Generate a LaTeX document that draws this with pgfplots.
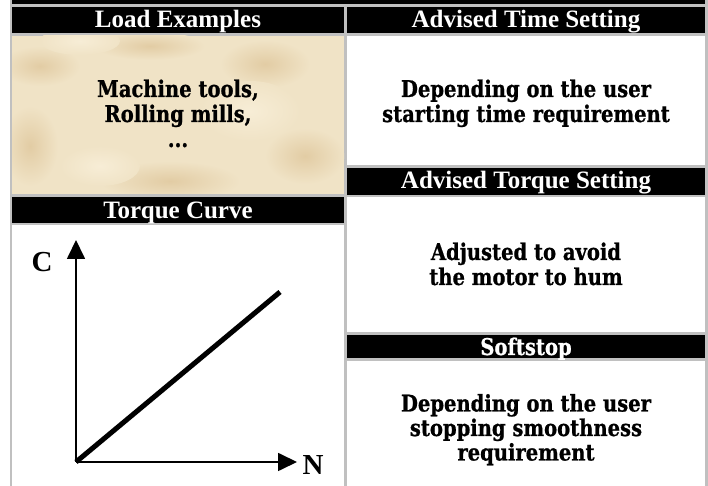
\documentclass[border=0pt]{standalone}
\usepackage{fontspec}
\setmainfont{Liberation Serif}
\newfontfamily\bodyfont{DejaVu Serif}[FakeStretch=0.85,BoldFeatures={FakeBold=0.8}]
\usepackage{pgfplots}
\pgfplotsset{compat=1.18}
\usetikzlibrary{arrows.meta}
\definecolor{gridgrey}{RGB}{192,192,192}
\definecolor{parch}{RGB}{240,227,198}
\definecolor{tan}{RGB}{226,204,164}
\definecolor{cream}{RGB}{247,237,214}
\newcommand\hdr{\fontsize{25bp}{30bp}\selectfont\bfseries}
\newcommand\bdy{\bodyfont\fontsize{23bp}{28bp}\selectfont\bfseries}
\begin{document}
\begin{tikzpicture}[x=1bp,y=1bp]
\useasboundingbox (0,0) rectangle (708,486);
\fill[white] (0,0) rectangle (708,486);
\fill[gridgrey] (10,0) rectangle (708,486);
% cells
\fill[black] (12,482) rectangle (705,486);
\fill[black] (12,453) rectangle (344,479);
\fill[black] (347,453) rectangle (705,479);
\fill[parch] (12,292) rectangle (344,450);
\begin{scope}
\clip (12,292) rectangle (344,450);
\shade[inner color=tan,outer color=parch] (40,420) ellipse (40 and 20);
\shade[inner color=tan,outer color=parch] (150,440) ellipse (55 and 14);
\shade[inner color=tan,outer color=parch] (265,422) ellipse (45 and 24);
\shade[inner color=tan,outer color=parch] (30,340) ellipse (28 and 40);
\shade[inner color=tan,outer color=parch] (170,305) ellipse (70 and 20);
\shade[inner color=tan,outer color=parch] (305,330) ellipse (40 and 28);
\shade[inner color=cream,outer color=parch] (250,375) ellipse (50 and 30);
\shade[inner color=cream,outer color=parch] (80,445) ellipse (40 and 14);
\shade[inner color=cream,outer color=parch] (100,320) ellipse (40 and 20);
\end{scope}
\fill[white] (347,321) rectangle (705,450);
\fill[black] (347,291) rectangle (705,318);
\fill[black] (12,263) rectangle (344,289);
\fill[white] (12,0) rectangle (344,261);
\fill[white] (347,154) rectangle (705,289);
\fill[black] (347,128) rectangle (705,151);
\fill[white] (347,0) rectangle (705,125);
% headers
\node[anchor=base,text=white,inner sep=0] at (178,458.3) {\hdr Load Examples};
\node[anchor=base,text=white,inner sep=0] at (526,458.3) {\hdr Advised Time Setting};
\node[anchor=base,text=white,inner sep=0] at (526,297.5) {\hdr Advised Torque Setting};
\node[anchor=base,text=white,inner sep=0] at (178,267.5) {\hdr Torque Curve};
\node[anchor=base,text=white,inner sep=0] at (526,131) {\bdy Softstop};
% body
\node[anchor=base,inner sep=0] at (178,389) {\bdy Machine tools,};
\node[anchor=base,inner sep=0] at (178,364) {\bdy Rolling mills,};
\node[anchor=base,inner sep=0] at (178,339) {\bdy ...};
\node[anchor=base,inner sep=0] at (526,389) {\bdy Depending on the user};
\node[anchor=base,inner sep=0] at (526,364) {\bdy starting time requirement};
\node[anchor=base,inner sep=0] at (526,226) {\bdy Adjusted to avoid};
\node[anchor=base,inner sep=0] at (526,201) {\bdy the motor to hum};
\node[anchor=base,inner sep=0] at (526,74.5) {\bdy Depending on the user};
\node[anchor=base,inner sep=0] at (526,50) {\bdy stopping smoothness};
\node[anchor=base,inner sep=0] at (526,25.5) {\bdy requirement};
% axis labels
\node[anchor=base,inner sep=0] at (42,214) {\fontsize{29bp}{34bp}\selectfont\bfseries C};
\node[anchor=base,inner sep=0] at (313,11) {\fontsize{29bp}{34bp}\selectfont\bfseries N};
% torque curve
\begin{axis}[at={(76bp,24bp)},anchor=south west,scale only axis,
  width=221bp,height=222bp,xmin=0,xmax=221,ymin=0,ymax=222,
  hide axis,clip=false]
\addplot[line width=1.7bp,-{Triangle[length=19bp,width=18bp]}] coordinates {(0,0) (221,0)};
\addplot[line width=1.7bp,-{Triangle[length=19bp,width=18bp]}] coordinates {(0,0) (0,222)};
\addplot[line width=5bp] coordinates {(0,0) (204,170)};
\end{axis}
\end{tikzpicture}
\end{document}
